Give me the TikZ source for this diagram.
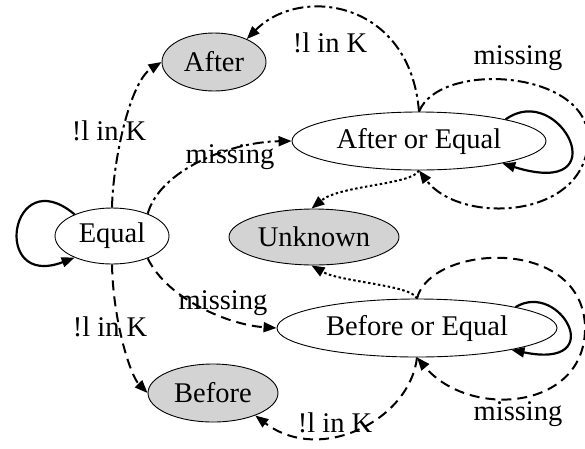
\documentclass[tikz,border=0pt]{standalone}
\usepackage{fontspec}
\setmainfont{Liberation Serif}
\usetikzlibrary{shapes.geometric,arrows.meta}
\definecolor{statefill}{RGB}{211,211,211}
\tikzset{
  state/.style={ellipse, draw, line width=0.9pt, inner sep=0pt,
    font=\fontsize{28.5}{32}\selectfont},
  final/.style={state, fill=statefill},
  edge/.style={line width=2pt, -{Triangle[length=13pt,width=10pt]}},
  loopedge/.style={edge, line width=2.2pt},
  dashededge/.style={edge, dash pattern=on 10pt off 6pt},
  dashdotedge/.style={edge, dash pattern=on 11pt off 4pt on 3pt off 4pt},
  dottededge/.style={edge, dash pattern=on 2.5pt off 2.5pt},
  lbl/.style={font=\fontsize{28.5}{32}\selectfont, inner sep=0pt}
}
\begin{document}
\begin{tikzpicture}[x=1pt, y=-1pt]
\useasboundingbox (0,0) rectangle (585,448);
\clip (0,0) rectangle (585,448);

% states
\node[final, minimum width=104pt, minimum height=58pt] (after) at (214,62) {After};
\node[state, minimum width=254pt, minimum height=58pt] (aoe) at (419,141) {After or Equal};
\node[state, minimum width=114pt, minimum height=56pt] (eq) at (112,236) {Equal};
\node[final, minimum width=170pt, minimum height=56pt] (unk) at (314,237) {Unknown};
\node[state, minimum width=280pt, minimum height=58pt] (boe) at (417,328) {Before or Equal};
\node[final, minimum width=130pt, minimum height=58pt] (bef) at (213,393) {Before};

% Equal
\draw[loopedge] (eq.150) .. controls (10,160) and (-10,290) .. (eq.210);
\draw[dashdotedge] (eq.north) .. controls (113,160) and (130,82) .. (after.west);
\draw[dashdotedge] (eq.32) .. controls (160,170) and (230,142) .. (aoe.west);
\draw[dashededge] (eq.south) .. controls (113,320) and (130,375) .. (bef.west);
\draw[dashededge] (eq.-32) .. controls (168,300) and (230,325) .. (boe.west);

% After or Equal
\draw[dashdotedge] (aoe.north) .. controls (410,0) and (300,-15) .. (after.35);
\draw[dashdotedge] (aoe.north) .. controls (440,60) and (590,70) .. (588,140)
  .. controls (586,220) and (460,225) .. (aoe.south);
\draw[loopedge] (aoe.14) .. controls (560,80) and (620,200) .. (aoe.-15);
\draw[dottededge] (aoe.south) .. controls (412,185) and (340,185) .. (unk.95);

% Before or Equal
\draw[dottededge] (boe.north) .. controls (412,285) and (340,282) .. (unk.-95);
\draw[dashededge] (boe.north) .. controls (430,245) and (580,235) .. (585,325)
  .. controls (588,410) and (470,420) .. (boe.south);
\draw[loopedge] (boe.12) .. controls (560,280) and (610,370) .. (boe.-13);
\draw[dashededge] (boe.south) .. controls (410,420) and (320,465) .. (bef.-28);

% edge labels
\node[lbl] (l1) at (109,131) {!l in K};
\node[lbl] (l2) at (230,157) {missing};
\node[lbl] (l3) at (110,327) {!l in K};
\node[lbl] (l4) at (223,303) {missing};
\node[lbl] (l5) at (330,43) {!l in K};
\node[lbl] (l6) at (518,58) {missing};
\node[lbl] (l7) at (518,414) {missing};
\node[lbl] (l8) at (335,423) {!l in K};
\end{tikzpicture}
\end{document}
